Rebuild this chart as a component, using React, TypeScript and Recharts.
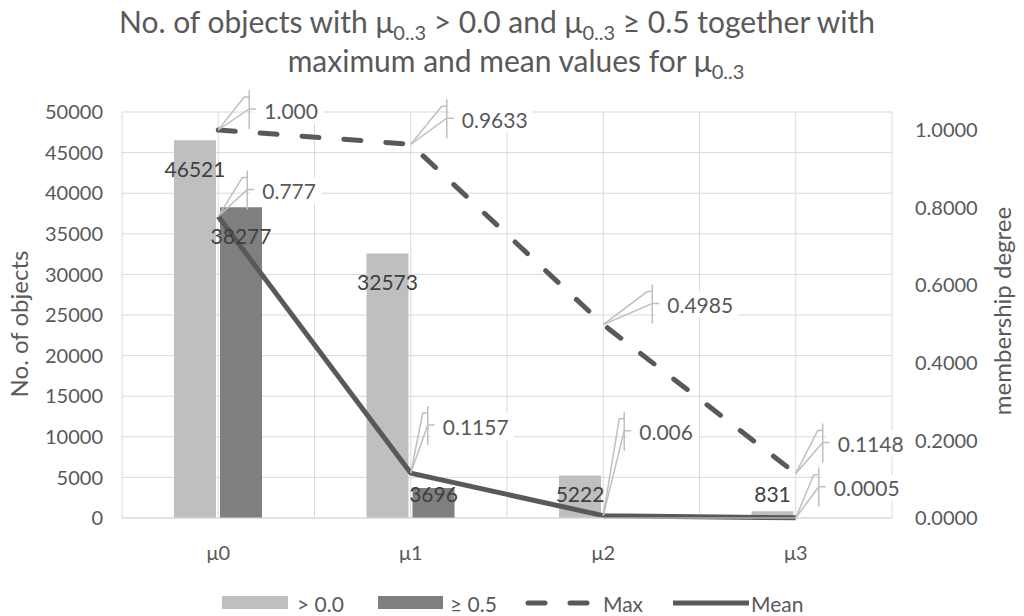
import React from 'react';
import { ComposedChart, Bar, Line, XAxis, YAxis, CartesianGrid, LabelList } from 'recharts';

// chart values
const categories = ['μ0', 'μ1', 'μ2', 'μ3'];
const aboveZero = [46521, 32573, 5222, 831];
const atLeastHalf = [38277, 3696, 0, 0];
const maxValues = [1.0, 0.9633, 0.4985, 0.1148];
const maxLabels = ['1.000', '0.9633', '0.4985', '0.1148'];
const meanValues = [0.777, 0.1157, 0.006, 0.0005];
const meanLabels = ['0.777', '0.1157', '0.006', '0.0005'];
const countTicks = [0, 5000, 10000, 15000, 20000, 25000, 30000, 35000, 40000, 45000, 50000];
const degreeTicks = [0, 0.2, 0.4, 0.6, 0.8, 1.0];

// where Excel put the line data labels, relative to the point [dx, dy]
const maxLabelOffsets = [[46, -20], [51, -25], [64, -20], [42, -30]];
const meanLabelOffsets = [[44, -26], [32, -47], [36, -84], [38, -30]];

const FONT = "Lato, 'Open Sans', sans-serif";
const TEXT = '#595959';
const LIGHT = '#bfbfbf';
const DARK = '#7f7f7f';
const LINE = '#595959';
const GRID = '#d9d9d9';

const data = categories.map((cat, i) => ({
  cat,
  above: aboveZero[i],
  half: atLeastHalf[i],
  max: maxValues[i],
  mean: meanValues[i],
}));

const BarValueLabel = (props: any) => {
  const { x, y, width, height, value } = props;
  const bottom = y + height;
  const ty = Math.min(y + 28, bottom - 25);
  return (
    <text x={x + width / 2} y={ty} textAnchor="middle" dominantBaseline="central" fontSize={21} fill="#404040">
      {value}
    </text>
  );
};

// the odd leader lines Excel draws for moved labels
const makeLeaderLabel = (texts: string[], offsets: number[][]) => (props: any) => {
  const { x, y, index } = props;
  if (x == null || y == null) return null;
  const [dx, dy] = offsets[index];
  const tx = x + dx;
  const ty = y + dy;
  const bx = tx - 15;
  const text = texts[index];
  const w = text.length * 11.5 + 14;
  return (
    <g>
      <rect x={bx + 3} y={ty - 13} width={w} height={26} fill="#ffffff" />
      <polyline points={`${x},${y} ${bx - 5},${ty - 13} ${bx},${ty - 13}`} fill="none" stroke={LIGHT} strokeWidth={1.5} />
      <polyline points={`${x},${y} ${bx},${ty - 1} ${bx + 7},${ty - 1}`} fill="none" stroke={LIGHT} strokeWidth={1.5} />
      <line x1={bx} y1={ty - 20} x2={bx} y2={ty + 19} stroke={LIGHT} strokeWidth={1.5} />
      <text x={tx} y={ty} dominantBaseline="central" fontSize={21} fill={TEXT}>
        {text}
      </text>
    </g>
  );
};

const gridColumns = (props: any) => {
  const o = props.offset ?? { left: 122, width: 770 };
  const cols: number[] = [];
  for (let i = 0; i <= categories.length * 2; i++) cols.push(o.left + (i * o.width) / (categories.length * 2));
  return cols;
};

const Sub = ({ children }: { children: string }) => (
  <>
    <tspan dy={7} fontSize={20}>{children}</tspan>
    <tspan dy={-7}> </tspan>
  </>
);

export default function App() {
  return (
    <div style={{ position: 'absolute', left: 0, top: 0, width: 1024, height: 616, fontFamily: FONT, background: '#fff' }}>
      <ComposedChart width={1024} height={616} data={data} margin={{ top: 112, right: 0, bottom: 38, left: 0 }} barGap={4}>
        <CartesianGrid yAxisId="left" stroke={GRID} verticalCoordinatesGenerator={gridColumns} />
        <XAxis
          dataKey="cat"
          height={60}
          tickLine={false}
          tickSize={0}
          tickMargin={28}
          axisLine={{ stroke: GRID }}
          tick={{ fill: TEXT, fontSize: 20 }}
        />
        <YAxis
          yAxisId="left"
          width={122}
          domain={[0, 50000]}
          ticks={countTicks}
          axisLine={false}
          tickLine={false}
          tickSize={0}
          tickMargin={19}
          tick={{ fill: TEXT, fontSize: 20 }}
          label={{ value: 'No. of objects', angle: -90, position: 'insideLeft', offset: 19, dy: 9, style: { textAnchor: 'middle', fill: TEXT, fontSize: 24 } }}
        />
        <YAxis
          yAxisId="right"
          orientation="right"
          width={132}
          domain={[0, 1.0464]}
          ticks={degreeTicks}
          tickFormatter={(v: number) => v.toFixed(4)}
          axisLine={false}
          tickLine={false}
          tickSize={0}
          tickMargin={23}
          tick={{ fill: TEXT, fontSize: 20 }}
          label={{ value: 'membership degree', angle: -90, position: 'insideRight', offset: 22, dy: -4, style: { textAnchor: 'middle', fill: TEXT, fontSize: 24 } }}
        />
        <Bar yAxisId="left" dataKey="above" fill={LIGHT} barSize={42} isAnimationActive={false}>
          <LabelList dataKey="above" content={BarValueLabel} />
        </Bar>
        <Bar yAxisId="left" dataKey="half" fill={DARK} barSize={42} isAnimationActive={false}>
          <LabelList dataKey="half" content={BarValueLabel} />
        </Bar>
        <Line
          yAxisId="right"
          type="linear"
          dataKey="max"
          stroke={LINE}
          strokeWidth={5}
          strokeDasharray="17 25"
          strokeLinecap="round"
          dot={false}
          isAnimationActive={false}
        >
          <LabelList dataKey="max" content={makeLeaderLabel(maxLabels, maxLabelOffsets)} />
        </Line>
        <Line
          yAxisId="right"
          type="linear"
          dataKey="mean"
          stroke={LINE}
          strokeWidth={5}
          strokeLinejoin="round"
          dot={false}
          isAnimationActive={false}
        >
          <LabelList dataKey="mean" content={makeLeaderLabel(meanLabels, meanLabelOffsets)} />
        </Line>
      </ComposedChart>

      <svg width={1024} height={616} style={{ position: 'absolute', left: 0, top: 0, pointerEvents: 'none' }}>
        <text x={497} y={33} textAnchor="middle" fontSize={30} fill={TEXT}>
          No. of objects with μ<Sub>0..3</Sub>&gt; 0.0 and μ<Sub>0..3</Sub>≥ 0.5 together with
        </text>
        <text x={516} y={72} textAnchor="middle" fontSize={30} fill={TEXT}>
          maximum and mean values for μ<tspan dy={7} fontSize={20}>0..3</tspan>
        </text>

        <g fontSize={21} fill={TEXT}>
          <rect x={222} y={596} width={66} height={13} fill={LIGHT} />
          <text x={297} y={603} dominantBaseline="central">&gt; 0.0</text>
          <rect x={378} y={596} width={65} height={13} fill={DARK} />
          <text x={450} y={603} dominantBaseline="central">≥ 0.5</text>
          <line x1={528} y1={603} x2={588} y2={603} stroke={LINE} strokeWidth={5} strokeDasharray="17 25" strokeLinecap="round" />
          <text x={603} y={603} dominantBaseline="central">Max</text>
          <line x1={673} y1={603} x2={749} y2={603} stroke={LINE} strokeWidth={5} />
          <text x={751} y={603} dominantBaseline="central">Mean</text>
        </g>
      </svg>
    </div>
  );
}
